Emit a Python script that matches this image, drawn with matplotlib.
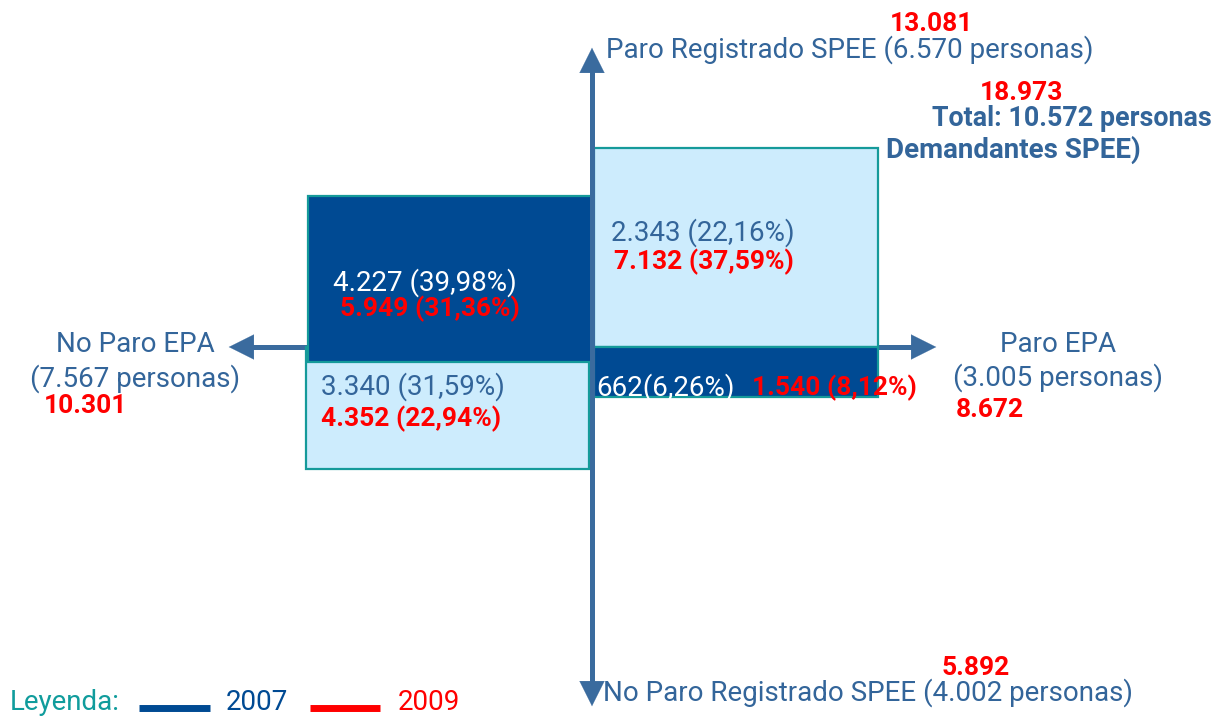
import matplotlib
matplotlib.use("Agg")
import matplotlib.pyplot as plt
from matplotlib.patches import Rectangle

# datos: demandantes SPEE cruzados con situacion EPA
cuadrantes = ['Paro SPEE / No Paro EPA', 'Paro SPEE / Paro EPA',
              'No Paro SPEE / No Paro EPA', 'No Paro SPEE / Paro EPA']
valores_2007 = [4227, 2343, 3340, 662]
pct_2007 = [39.98, 22.16, 31.59, 6.26]
valores_2009 = [5949, 7132, 4352, 1540]
pct_2009 = [31.36, 37.59, 22.94, 8.12]

ejes = ['Paro Registrado SPEE', 'No Paro Registrado SPEE', 'No Paro EPA', 'Paro EPA']
ejes_2007 = [6570, 4002, 7567, 3005]
ejes_2009 = [13081, 5892, 10301, 8672]
total_2007 = 10572
total_2009 = 18973
anios = ['2007', '2009']

AZUL_EJE = '#3a6b9e'
AZUL_TXT = '#33659a'
AZUL_OSC = '#004a93'
AZUL_CLARO = '#cdecfd'
BORDE = '#159a9a'
ROJO = '#ff0000'
TEAL = '#109c9c'

plt.rcParams['font.family'] = ['Roboto', 'DejaVu Sans']

FS = 20      # texto normal
FB = 19      # texto en negrita


def num(v):
    return f'{v:,}'.replace(',', '.')


def pct(p):
    return f'{p:.2f}'.replace('.', ',') + '%'


fig = plt.figure(figsize=(12.16, 7.16), dpi=100)
ax = fig.add_axes([0, 0, 1, 1])
ax.set_xlim(0, 1216)
ax.set_ylim(716, 0)
ax.axis('off')

# eje horizontal (debajo de las cajas)
ax.plot([235, 925], [347, 347], color=AZUL_EJE, lw=3.6, zorder=1, solid_capstyle='butt')
for x0, x1 in [(245, 226), (920, 939)]:
    ax.annotate('', xy=(x1, 347), xytext=(x0, 347),
                arrowprops=dict(arrowstyle='-|>,head_width=0.45,head_length=0.9',
                                color=AZUL_EJE, lw=0.1, mutation_scale=20), zorder=1)

# cajas (izq-arriba, der-arriba, izq-abajo, der-abajo)
cajas = [(308, 196, 284, 166, AZUL_OSC),
         (594, 148, 284, 199, AZUL_CLARO),
         (306, 347, 283, 122, AZUL_CLARO),
         (594, 347, 284, 50, AZUL_OSC)]
orden = [2, 0, 1, 3]
for i in orden:
    x, y, w, h, c = cajas[i]
    ax.add_patch(Rectangle((x, y), w, h, facecolor=c, edgecolor=BORDE, lw=1.6, zorder=2))

# eje vertical (encima de las cajas)
ax.plot([592, 592], [62, 694], color=AZUL_EJE, lw=3.6, zorder=3, solid_capstyle='butt')
for y0, y1 in [(64, 45), (690, 709)]:
    ax.annotate('', xy=(592, y1), xytext=(592, y0),
                arrowprops=dict(arrowstyle='-|>,head_width=0.45,head_length=0.9',
                                color=AZUL_EJE, lw=0.1, mutation_scale=20), zorder=3)

# textos de cuadrantes
col_2007 = ['white', AZUL_TXT, AZUL_TXT, 'white']
pos_2007 = [(333, 283), (611, 233), (321, 387), (596, 388)]
pos_2009 = [(340, 309), (614, 262), (321, 419), (752, 388)]
for i in range(4):
    sep = '' if i == 3 else ' '
    ax.text(*pos_2007[i], f'{num(valores_2007[i])}{sep}({pct(pct_2007[i])})',
            color=col_2007[i], fontsize=FS, ha='left', va='center', zorder=4)
    ax.text(*pos_2009[i], f'{num(valores_2009[i])} ({pct(pct_2009[i])})',
            color=ROJO, fontsize=FB, fontweight='bold', ha='left', va='center', zorder=4)

# etiquetas de ejes
ax.text(606, 50, f'{ejes[0]} ({num(ejes_2007[0])} personas)', color=AZUL_TXT,
        fontsize=FS, ha='left', va='center')
ax.text(932, 24, num(ejes_2009[0]), color=ROJO, fontsize=FB, fontweight='bold',
        ha='center', va='center')
ax.text(603, 693, f'{ejes[1]} ({num(ejes_2007[1])} personas)', color=AZUL_TXT,
        fontsize=FS, ha='left', va='center')
ax.text(976, 668, num(ejes_2009[1]), color=ROJO, fontsize=FB, fontweight='bold',
        ha='center', va='center')
ax.text(135, 345, ejes[2], color=AZUL_TXT, fontsize=FS, ha='center', va='center')
ax.text(135, 379, f'({num(ejes_2007[2])} personas)', color=AZUL_TXT, fontsize=FS,
        ha='center', va='center')
ax.text(86, 406, num(ejes_2009[2]), color=ROJO, fontsize=FB, fontweight='bold',
        ha='center', va='center')
ax.text(1058, 345, ejes[3], color=AZUL_TXT, fontsize=FS, ha='center', va='center')
ax.text(1058, 378, f'({num(ejes_2007[3])} personas)', color=AZUL_TXT, fontsize=FS,
        ha='center', va='center')
ax.text(990, 410, num(ejes_2009[3]), color=ROJO, fontsize=FB, fontweight='bold',
        ha='center', va='center')

# total
ax.text(1022, 93, num(total_2009), color=ROJO, fontsize=FB, fontweight='bold',
        ha='center', va='center')
ax.text(1212, 118, f'Total: {num(total_2007)} personas', color=AZUL_TXT, fontsize=19.4,
        fontweight='bold', ha='right', va='center')
ax.text(886, 150, 'Demandantes SPEE)', color=AZUL_TXT, fontsize=20, fontweight='bold',
        ha='left', va='center')

# leyenda
ax.text(10, 703, 'Leyenda:', color=TEAL, fontsize=FS, ha='left', va='center')
ax.plot([139, 210], [708, 708], color=AZUL_OSC, lw=5, solid_capstyle='butt')
ax.text(226, 703, anios[0], color=AZUL_OSC, fontsize=FS, ha='left', va='center')
ax.plot([310, 380], [708, 708], color=ROJO, lw=5, solid_capstyle='butt')
ax.text(398, 703, anios[1], color=ROJO, fontsize=FS, ha='left', va='center')

fig.savefig('out.png', dpi=100)
